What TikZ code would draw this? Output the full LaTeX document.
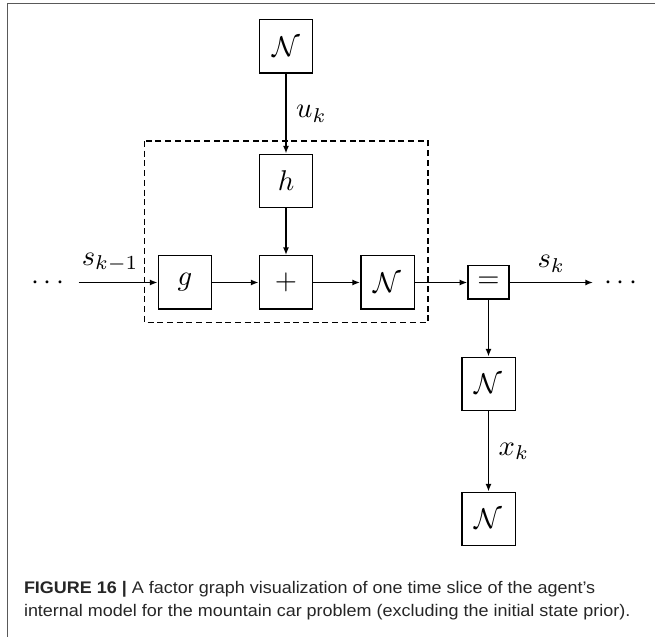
\documentclass[tikz,border=0pt]{standalone}
\usepackage{fontspec}
\usetikzlibrary{arrows.meta}
\newfontfamily\capfont[FakeStretch=1.07]{Liberation Sans}

\begin{document}
\begin{tikzpicture}[x=0.35pt, y=-0.35pt, line width=0.5pt, >={Latex[length=2.7pt,width=2.1pt]},
		fbox/.style={draw, minimum size=18.7pt, inner sep=0pt},
		eqbox/.style={draw, minimum width=14.3pt, minimum height=11.7pt, inner sep=0pt},
		slice/.style={draw, dash pattern=on 2.1pt off 1.3pt},
		captext/.style={anchor=base west, inner sep=0pt, text=black!85,
			font=\capfont\fontsize{5.88pt}{8.2pt}\selectfont}]
			%%%%% START %%%%%
			
			\useasboundingbox (0, 0) rectangle (655, 637);
			\draw[line width=0.6pt, color=black!65] (7.5, 637) -- (7.5, 3.5) -- (655, 3.5);
			
			\node[fbox] (priorU) at (286, 46.5) {$\mathcal{N}$};
			\node[fbox] (h) at (286, 181) {$h$};
			
			\node[fbox] (g) at (185, 282.5) {$g$};
			\node[fbox] (plus) at (286, 282.5) {$+$};
			\node[fbox] (noiseS) at (387.5, 282.5) {$\mathcal{N}$};
			\node[eqbox] (eq) at (488.5, 282.5) {$=$};
			
			\node[fbox] (obsN) at (488.5, 384) {$\mathcal{N}$};
			\node[fbox] (priorX) at (488.5, 519) {$\mathcal{N}$};
			
			\node (dotsL) at (48, 283) {$\cdots$};
			\node (dotsR) at (621, 283) {$\cdots$};
			\coordinate (sIn) at (78.5, 282.5);
			\coordinate (sOut) at (593, 282.5);
			
			\draw[slice] (144.5, 141) rectangle (428, 322.5);
			
			\draw[->] (priorU) -- node[right] {$u_k$} (h);
			\draw[->] (h) -- (plus);
			\draw[->] (sIn) -- node[above, pos=0.4] {$s_{k-1}$} (g);
			\draw[->] (g) -- (plus);
			\draw[->] (plus) -- (noiseS);
			\draw[->] (noiseS) -- (eq);
			\draw[->] (eq) -- node[above] {$s_k$} (sOut);
			\draw[->] (eq) -- (obsN);
			\draw[->] (obsN) -- node[right] {$x_k$} (priorX);
			
			\node[captext] (capA) at (23.3, 593.3) {\textbf{FIGURE 16 |} A factor graph visualization of one time slice of the agent’s};
			\node[captext] (capB) at (23.3, 616.7) {internal model for the mountain car problem (excluding the initial state prior).};
			
			%%%%% END %%%%%
\end{tikzpicture}
\end{document}
